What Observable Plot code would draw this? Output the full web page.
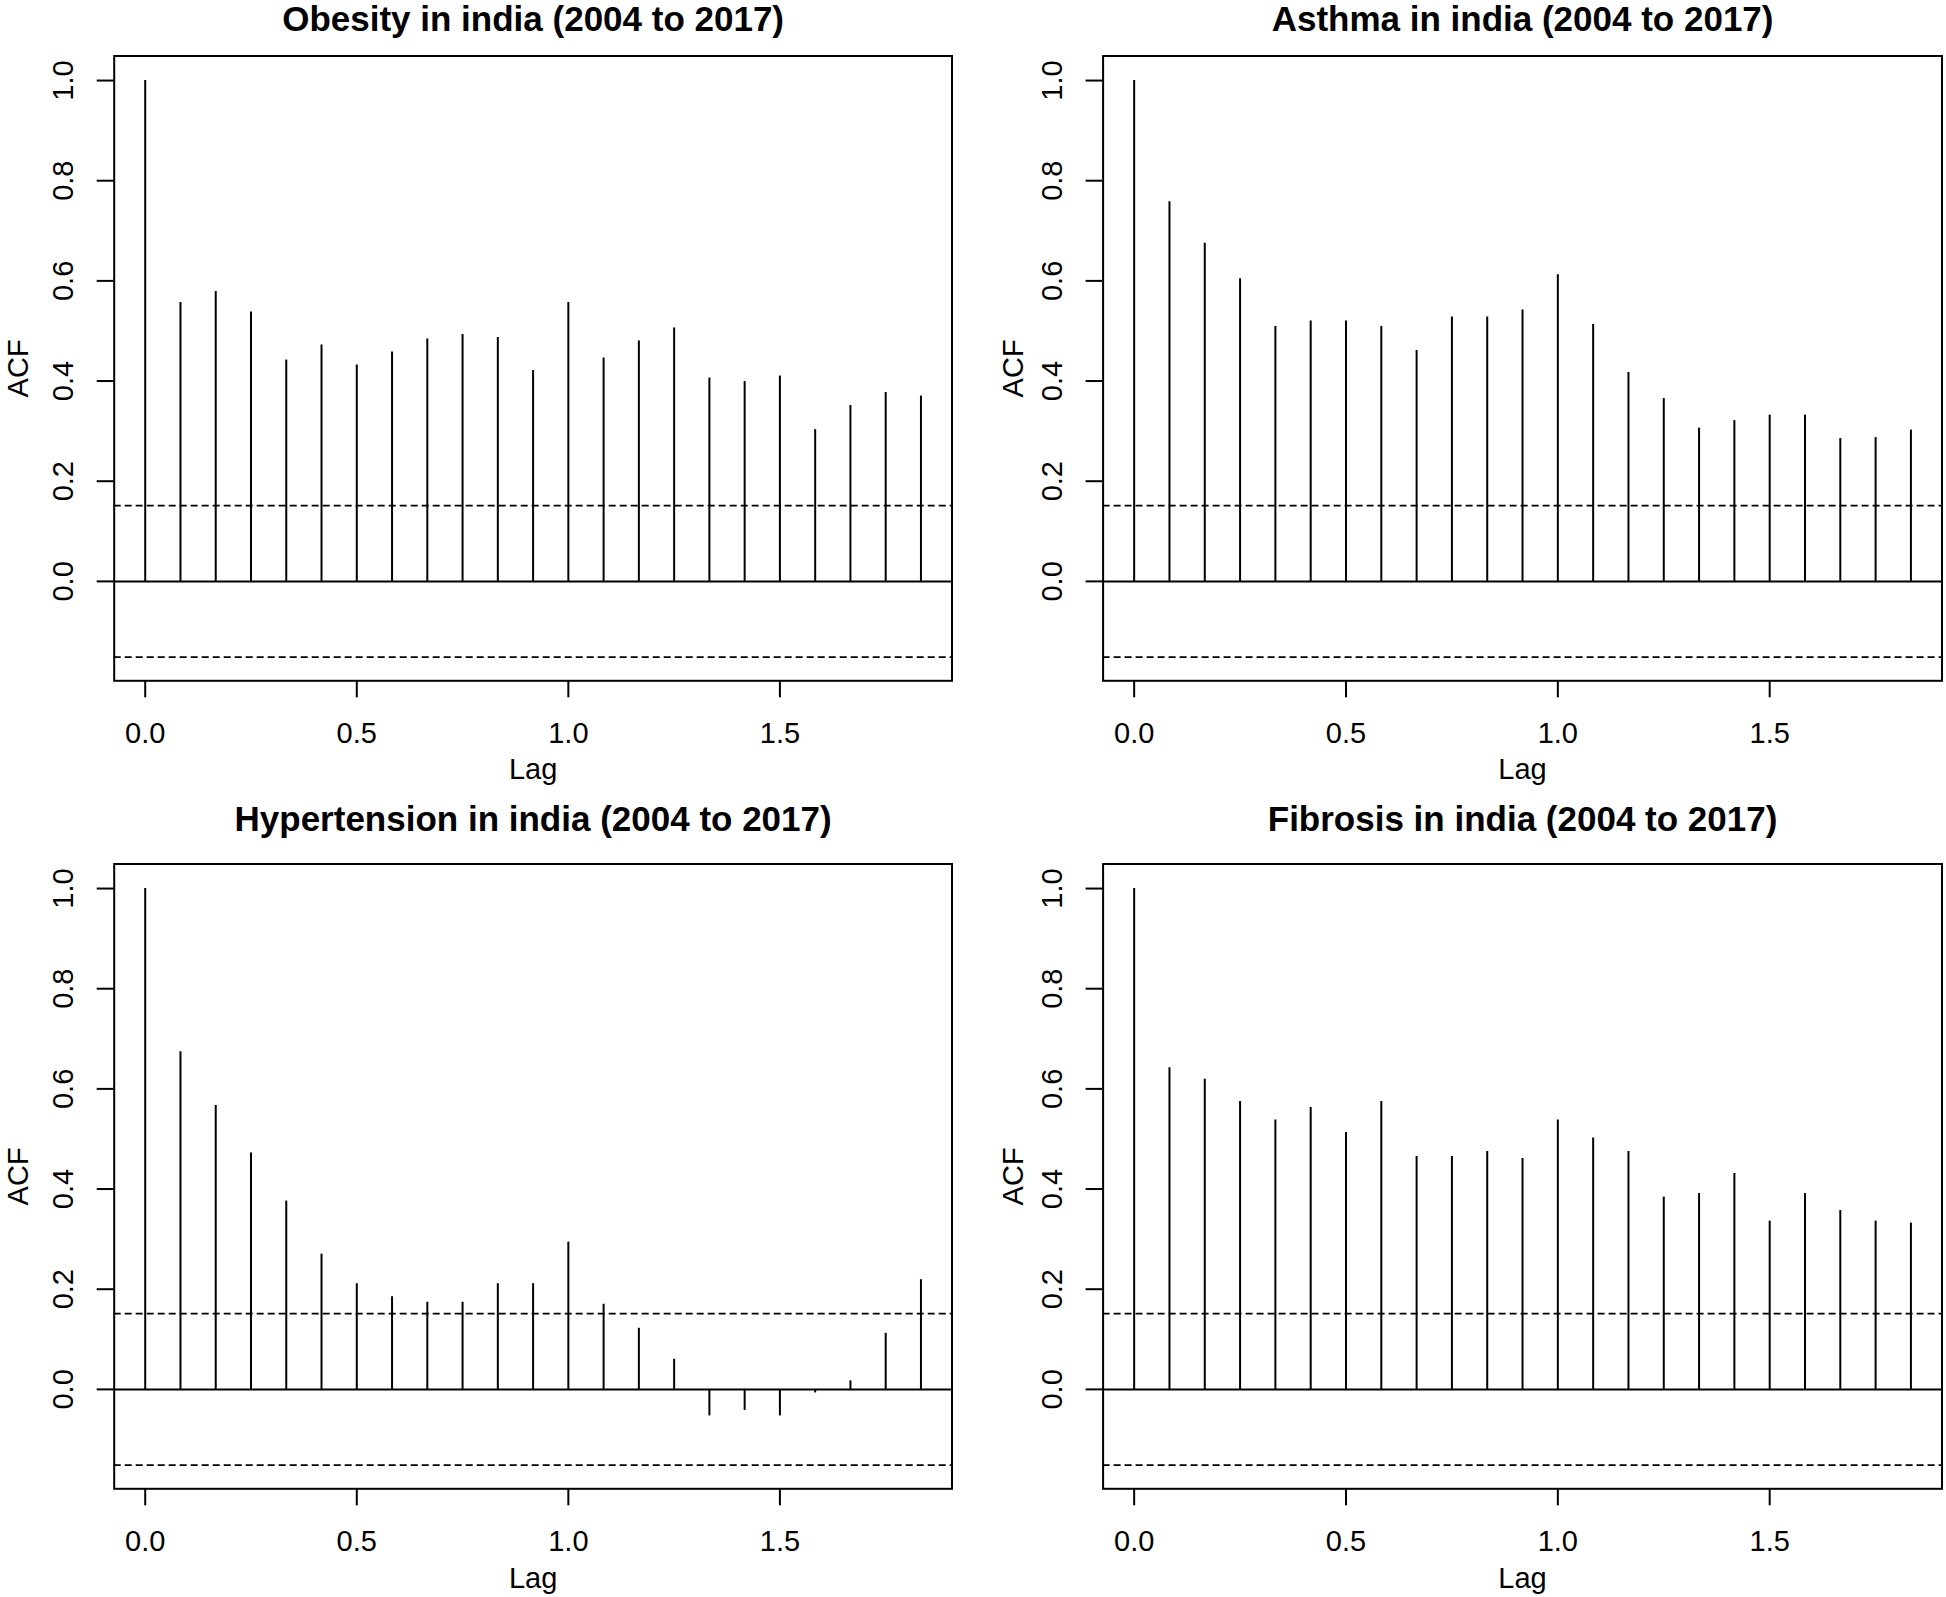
<!DOCTYPE html>
<html>
<head>
<meta charset="utf-8">
<script src="https://cdn.jsdelivr.net/npm/d3@7"></script>
<script src="https://cdn.jsdelivr.net/npm/@observablehq/plot@0.6"></script>
<style>
  html, body { margin: 0; padding: 0; background: #fff; }
  #root { position: relative; width: 1946px; height: 1597px; background: #fff; overflow: hidden; }
  .panel { position: absolute; }
</style>
</head>
<body>
<div id="root"></div>
<script>
// ---- Data ----
const lags = [0, 1/12, 2/12, 3/12, 4/12, 5/12, 6/12, 7/12, 8/12, 9/12, 10/12, 11/12,
              12/12, 13/12, 14/12, 15/12, 16/12, 17/12, 18/12, 19/12, 20/12, 21/12, 22/12];

const titles = [
  "Obesity in india (2004 to 2017)",
  "Asthma in india (2004 to 2017)",
  "Hypertension in india (2004 to 2017)",
  "Fibrosis in india (2004 to 2017)"
];

const obesityACF = [1.000, 0.557, 0.579, 0.538, 0.442, 0.472, 0.432, 0.458, 0.484, 0.493, 0.487, 0.421,
                    0.557, 0.446, 0.480, 0.506, 0.406, 0.399, 0.410, 0.303, 0.351, 0.377, 0.370];
const asthmaACF = [1.000, 0.758, 0.675, 0.604, 0.509, 0.520, 0.520, 0.509, 0.461, 0.528, 0.528, 0.542,
                   0.612, 0.513, 0.417, 0.365, 0.306, 0.321, 0.332, 0.332, 0.285, 0.287, 0.302];
const hypertensionACF = [1.000, 0.674, 0.567, 0.472, 0.376, 0.270, 0.211, 0.185, 0.174, 0.174, 0.211, 0.211,
                         0.294, 0.170, 0.122, 0.060, -0.053, -0.042, -0.053, -0.007, 0.017, 0.112, 0.219];
const fibrosisACF = [1.000, 0.642, 0.619, 0.575, 0.538, 0.563, 0.513, 0.575, 0.465, 0.465, 0.475, 0.461,
                     0.538, 0.502, 0.475, 0.384, 0.391, 0.431, 0.336, 0.391, 0.357, 0.336, 0.332];

const ciBound = 0.1512;          // 95% confidence bound (dashed lines)
const xTicks = [0, 0.5, 1.0, 1.5];
const yTicks = [0, 0.2, 0.4, 0.6, 0.8, 1.0];
const xDomain = [-0.0733, 1.9067];
const yDomain = [-0.1985, 1.049];

const series = [obesityACF, asthmaACF, hypertensionACF, fibrosisACF];

// ---- Layout (pixels) ----
const panels = [
  {left: 0,   top: 0,   width: 973, height: 798, mL: 113.7, mR: 21.5, mT: 55.5, mB: 117.7, titleDy: -25,   acfDx: -86.5, lagDy: 97.7},
  {left: 973, top: 0,   width: 973, height: 798, mL: 129.6, mR: 4.5,  mT: 55.5, mB: 117.7, titleDy: -25,   acfDx: -80,   lagDy: 97.7},
  {left: 0,   top: 798, width: 973, height: 799, mL: 113.7, mR: 21.5, mT: 65.5, mB: 108.7, titleDy: -33.5, acfDx: -86.5, lagDy: 98.7},
  {left: 973, top: 798, width: 973, height: 799, mL: 129.6, mR: 4.5,  mT: 65.5, mB: 108.7, titleDy: -33.5, acfDx: -80,   lagDy: 98.7}
];

const root = document.getElementById("root");
const FONT = "'Liberation Sans', Arial, Helvetica, sans-serif";

panels.forEach((p, i) => {
  const rows = lags.map((lag, k) => ({lag, acf: series[i][k]}));
  const chart = Plot.plot({
    width: p.width,
    height: p.height,
    marginLeft: p.mL,
    marginRight: p.mR,
    marginTop: p.mT,
    marginBottom: p.mB,
    x: {domain: xDomain},
    y: {domain: yDomain},
    style: {fontFamily: FONT, fontSize: "29px", color: "#000", background: "#fff", overflow: "visible"},
    marks: [
      Plot.ruleY([ciBound, -ciBound], {stroke: "#000", strokeWidth: 1.8, strokeDasharray: "7,4"}),
      Plot.ruleY([0], {stroke: "#000", strokeWidth: 2}),
      Plot.ruleX(rows, {x: "lag", y1: 0, y2: "acf", stroke: "#000", strokeWidth: 2}),
      Plot.frame({stroke: "#000", strokeWidth: 2}),
      Plot.axisX(xTicks, {tickSize: 17, tickPadding: 25, tickFormat: d3.format(".1f"),
                          fontSize: 29, strokeWidth: 2, label: null}),
      Plot.axisY(yTicks, {tickSize: 17, tickPadding: 24, tickRotate: -90, textAnchor: "middle", lineAnchor: "bottom",
                          tickFormat: d3.format(".1f"), fontSize: 29, strokeWidth: 2, label: null}),
      Plot.text([titles[i]], {frameAnchor: "top", dy: p.titleDy, lineAnchor: "bottom",
                              fontWeight: "bold", fontSize: 35, fill: "#000"}),
      Plot.text(["Lag"], {frameAnchor: "bottom", dy: p.lagDy, lineAnchor: "bottom", fontSize: 29, fill: "#000"}),
      Plot.text(["ACF"], {frameAnchor: "left", dx: p.acfDx, rotate: -90, textAnchor: "middle",
                          lineAnchor: "bottom", fontSize: 29, fill: "#000"})
    ]
  });
  const div = document.createElement("div");
  div.className = "panel";
  div.style.left = p.left + "px";
  div.style.top = p.top + "px";
  div.appendChild(chart);
  root.appendChild(div);
});
</script>
</body>
</html>
